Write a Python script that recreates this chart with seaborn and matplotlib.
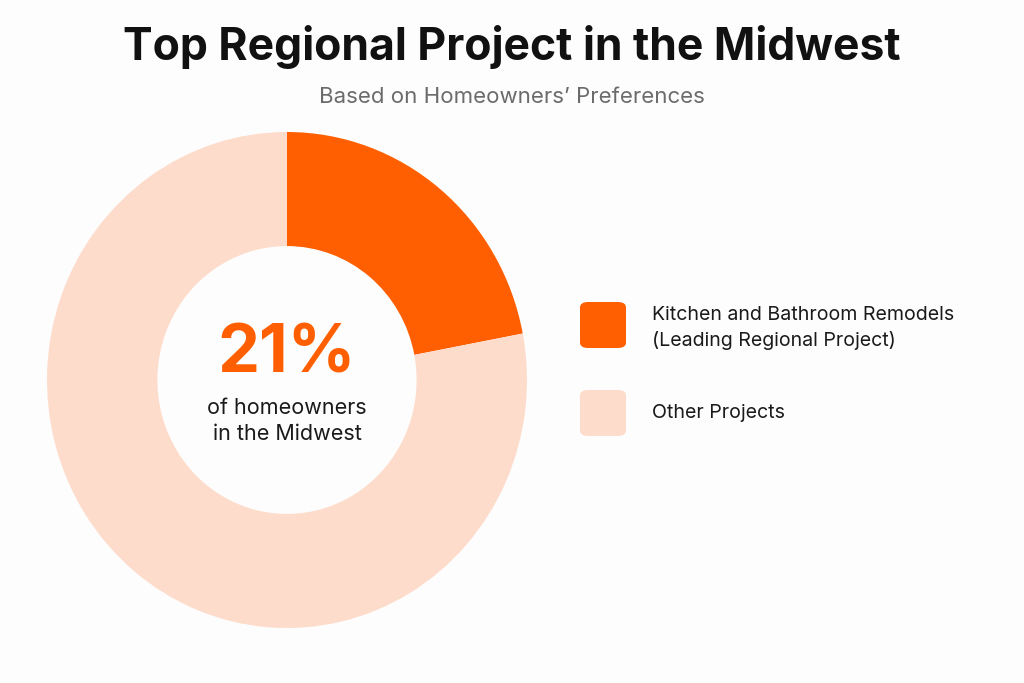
import matplotlib
matplotlib.use("Agg")
import matplotlib.pyplot as plt
import seaborn as sns
from matplotlib.patches import FancyBboxPatch

# data
labels = ["Kitchen and Bathroom Remodels\n(Leading Regional Project)", "Other Projects"]
shares = [22, 78]
colors = ["#FF5F00", "#FDDCCB"]
title = "Top Regional Project in the Midwest"
subtitle = "Based on Homeowners\u2019 Preferences"
center_value = "21%"
center_note = "of homeowners\nin the Midwest"

sns.set_theme(style="white")
plt.rcParams["font.family"] = ["Inter", "DejaVu Sans"]

W, H = 1024, 683
fig = plt.figure(figsize=(W / 100, H / 100), dpi=100, facecolor="#FDFDFD")

# donut axes, centred at pixel (287, 380), slightly taller than wide like the original
cx, cy, rx, ry = 287, 380, 240, 248
ax = fig.add_axes([(cx - rx) / W, (H - cy - ry) / H, 2 * rx / W, 2 * ry / H])
ax.set_facecolor("none")
ax.pie(shares, colors=colors, startangle=90, counterclock=False, radius=1,
       wedgeprops=dict(width=0.46, edgecolor="none"))
ax.set_xlim(-1, 1)
ax.set_ylim(-1, 1)
ax.set_aspect("auto")
ax.axis("off")

ax.text(0, 0.1, center_value, ha="center", va="center", fontsize=48,
        fontweight="bold", color=colors[0])
ax.text(0, -0.165, center_note, ha="center", va="center", fontsize=15.5,
        color="#1a1a1a", linespacing=1.4)

fig.text(0.5, 1 - 47 / H, title, ha="center", va="center", fontsize=32,
         fontweight="bold", color="#111111")
fig.text(0.5, 1 - 97 / H, subtitle, ha="center", va="center", fontsize=16,
         color="#6b6b6b")

# legend with rounded swatches
swatch_rows = [325, 413]
text_rows = [328, 413]
for lab, col, ys, yt in zip(labels, colors, swatch_rows, text_rows):
    box = FancyBboxPatch((580 / W, (H - ys - 23) / H), 46 / W, 46 / H,
                         boxstyle="round,pad=0,rounding_size=0.008",
                         transform=fig.transFigure, facecolor=col, edgecolor="none")
    fig.patches.append(box)
    fig.text(652 / W, 1 - yt / H, lab, ha="left", va="center", fontsize=14.1,
             color="#1a1a1a", linespacing=1.45)

fig.savefig("out.png", dpi=100, facecolor=fig.get_facecolor())
